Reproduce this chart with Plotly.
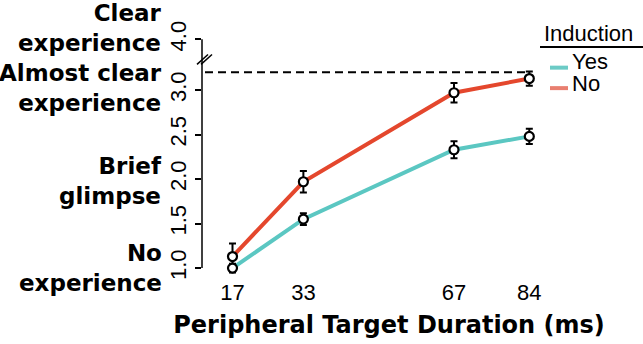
import plotly.graph_objects as go

# ---- data ----
durations = [17, 33, 67, 84]
yes_mean = [1.00, 1.55, 2.33, 2.48]
yes_err = [0.05, 0.065, 0.095, 0.085]
no_mean = [1.13, 1.97, 2.97, 3.13]
no_err = [0.145, 0.12, 0.11, 0.08]
series_names = ["Yes", "No"]
y_tickvals = [1.0, 1.5, 2.0, 2.5, 3.0, 3.57]
y_ticktext = ["1.0", "1.5", "2.0", "2.5", "3.0", "4.0"]
ceiling_value = 3.2
category_labels = ["No<br>experience", "Brief<br>glimpse", "Almost clear<br>experience", "Clear<br>experience"]
legend_title = "Induction"
x_title = "Peripheral Target Duration (ms)"

# ---- layout geometry ----
W, H = 643, 344
L, R, T, B = 202, 67, 10, 64
PW, PH = W - L - R, H - T - B
Y_RANGE = [0.9, 3.9]
PX0, SCALE = 232.5, 4.43          # pixel of x=17, px per ms


def xdata(px):
    return 17 + (px - PX0) / SCALE


X_RANGE = [xdata(L), xdata(W - R)]


def xp(px):
    return (px - L) / PW


def yp(py):
    return (H - B - py) / PH


TEAL, RED = "#5BC7C2", "#E4472D"
TEAL_L, RED_L = "#6CCBC6", "#E97F70"

fig = go.Figure()
for mean, col in [(yes_mean, TEAL), (no_mean, RED)]:
    fig.add_trace(go.Scatter(x=durations, y=mean, mode="lines",
                             line=dict(color=col, width=4), showlegend=False,
                             cliponaxis=False, hoverinfo="skip"))
for mean, err in [(yes_mean, yes_err), (no_mean, no_err)]:
    fig.add_trace(go.Scatter(x=durations, y=mean, mode="markers",
                             marker=dict(size=1, color="rgba(0,0,0,0)"),
                             error_y=dict(type="data", array=err, color="black",
                                          thickness=2, width=3.5),
                             showlegend=False, cliponaxis=False))
for mean in [yes_mean, no_mean]:
    fig.add_trace(go.Scatter(x=durations, y=mean, mode="markers",
                             marker=dict(size=9, color="white",
                                         line=dict(color="black", width=2.2)),
                             showlegend=False, cliponaxis=False))

shapes = []
# y axis line (from 1.0 to the 4.0 tick)
shapes.append(dict(type="line", xref="paper", yref="y", x0=0, x1=0,
                   y0=y_tickvals[0], y1=y_tickvals[-1],
                   line=dict(color="black", width=1.5)))
# axis break marks
for dx in (0, 4):
    shapes.append(dict(type="line", xref="paper", yref="paper",
                       x0=xp(197 + dx), y0=yp(65), x1=xp(208 + dx), y1=yp(55),
                       line=dict(color="black", width=1.5)))
# ceiling dashed line
shapes.append(dict(type="line", xref="x", yref="y", x0=xdata(205), x1=xdata(530),
                   y0=ceiling_value, y1=ceiling_value, layer="below",
                   line=dict(color="black", width=2, dash="8px,5px")))
# legend title underline
shapes.append(dict(type="line", xref="paper", yref="paper",
                   x0=xp(540), x1=xp(643), y0=yp(47.3), y1=yp(47.3),
                   line=dict(color="black", width=2)))
# legend keys
for py, col in [(68.3, TEAL_L), (89, RED_L)]:
    shapes.append(dict(type="line", xref="paper", yref="paper",
                       x0=xp(550), x1=xp(568), y0=yp(py), y1=yp(py),
                       line=dict(color=col, width=4)))

annotations = []
FONT_REG = "Liberation Sans, Arial, sans-serif"
FONT_BOLD = "DejaVu Sans, sans-serif"
annotations.append(dict(text=legend_title, xref="paper", yref="paper",
                        x=xp(588.5), y=yp(34), xanchor="center", yanchor="middle",
                        borderpad=0, showarrow=False,
                        font=dict(family=FONT_REG, size=22, color="black")))
for name, py in zip(series_names, [62.0, 84.5]):
    annotations.append(dict(text=name, xref="paper", yref="paper",
                            x=xp(571), y=yp(py), xanchor="left", yanchor="middle",
                            borderpad=0, showarrow=False,
                            font=dict(family=FONT_REG, size=22, color="black")))
label_centers = [270.4, 183.4, 88.4, 27.7]
for lab, py in zip(category_labels, label_centers):
    annotations.append(dict(text="<b>" + lab + "</b>", xref="paper", yref="paper",
                            x=xp(164), y=yp(py), xanchor="right", yanchor="middle",
                            align="right", showarrow=False,
                            font=dict(family=FONT_BOLD, size=23, color="black")))

fig.update_layout(
    width=W, height=H, margin=dict(l=L, r=R, t=T, b=B, pad=0),
    plot_bgcolor="white", paper_bgcolor="white",
    shapes=shapes, annotations=annotations, showlegend=False,
    xaxis=dict(range=X_RANGE, tickvals=durations, ticktext=[str(d) for d in durations],
               showline=False, showgrid=False, zeroline=False, ticks="",
               tickfont=dict(family=FONT_REG, size=22, color="black"),
               ticklabelstandoff=0,
               title=dict(text="<b>" + x_title + "</b>", standoff=12,
                          font=dict(family=FONT_BOLD, size=24, color="black"))),
    yaxis=dict(range=Y_RANGE, tickvals=y_tickvals, ticktext=y_ticktext,
               tickangle=-90, showline=False, showgrid=False, zeroline=False,
               ticks="outside", ticklen=6, tickwidth=1.5, tickcolor="black",
               tickfont=dict(family=FONT_REG, size=22, color="black")),
)

fig.write_html("out.html", config={"displayModeBar": False},
               post_script="document.body.style.margin='0';")
